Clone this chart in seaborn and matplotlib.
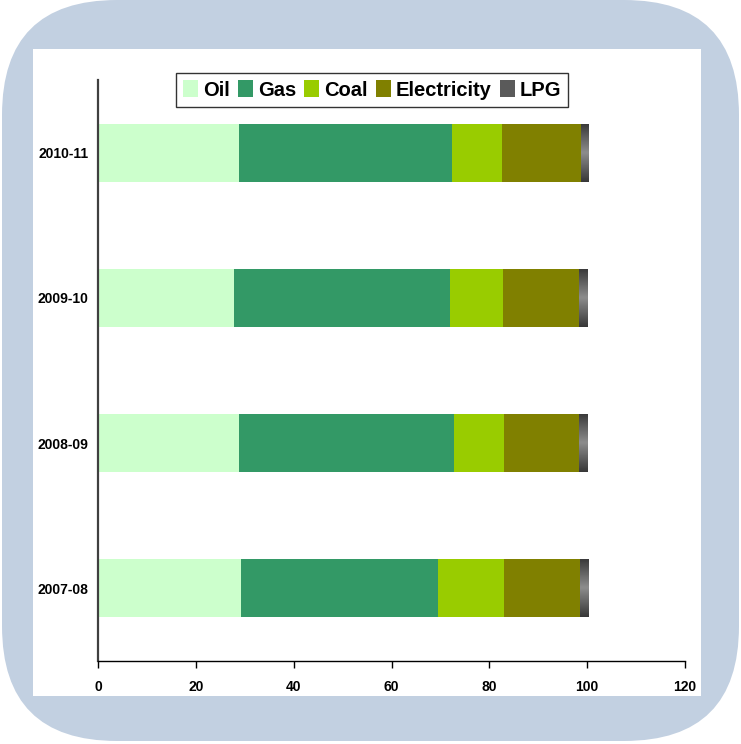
import numpy as np
import pandas as pd
import matplotlib
matplotlib.use("Agg")
import matplotlib.pyplot as plt
from matplotlib.patches import FancyBboxPatch, Rectangle, Patch
import seaborn as sns

# Energy share (%) by fuel and financial year
years = ["2010-11", "2009-10", "2008-09", "2007-08"]
oil = [28.9, 27.9, 28.9, 29.3]
gas = [43.4, 44.0, 43.8, 40.3]
coal = [10.3, 10.8, 10.2, 13.5]
electricity = [16.1, 15.6, 15.4, 15.4]
lpg = [1.6, 1.8, 1.8, 1.8]

fuels = ["Oil", "Gas", "Coal", "Electricity", "LPG"]
colors = ["#CCFFCC", "#339966", "#99CC00", "#808000", "#5A5A5A"]

sns.set_theme(style="white")
plt.rcParams["font.family"] = ["Liberation Sans", "DejaVu Sans"]

W, H = 741, 744
fig = plt.figure(figsize=(W / 100, H / 100), dpi=100)
fig.patch.set_facecolor("white")

# Rounded frame and white panel behind the chart
bg = fig.add_axes([0, 0, 1, 1], zorder=0)
bg.set_xlim(0, W)
bg.set_ylim(0, H)
bg.axis("off")
bg.add_patch(FancyBboxPatch((2, 3), 737, 741, boxstyle="round,pad=0,rounding_size=115",
                            facecolor="#C2D0E1", edgecolor="none"))
bg.add_patch(Rectangle((33, 48), 668, 647, facecolor="white", edgecolor="none"))

ax = fig.add_axes([98 / W, (H - 661) / H, 587 / W, 581 / H], zorder=1)
ax.set_facecolor("none")

df = pd.DataFrame({"Year": years, "Oil": oil, "Gas": gas, "Coal": coal,
                   "Electricity": electricity, "LPG": lpg})
cum = df[fuels].cumsum(axis=1)

# Stacked bars: draw cumulative totals from the longest down to the shortest
containers = {}
for fuel, col in zip(fuels[::-1], colors[::-1]):
    n_before = len(ax.patches)
    sns.barplot(x=cum[fuel], y=df["Year"], order=years, orient="h",
                color=col, saturation=1, width=0.4, ax=ax, zorder=2,
                linewidth=0, edgecolor="none")
    containers[fuel] = ax.patches[n_before:]

# LPG segments get a vertical metallic shading
grad = np.concatenate([np.linspace(0.22, 0.55, 50), np.linspace(0.55, 0.22, 50)])[:, None]
for p, start in zip(containers["LPG"], cum["Electricity"]):
    y0 = p.get_y()
    h = p.get_height()
    x1 = p.get_x() + p.get_width()
    im = ax.imshow(grad, cmap="gray", vmin=0, vmax=1, aspect="auto",
                   extent=(start, x1, y0 + h, y0), zorder=2.5, interpolation="bilinear")
    clip = Rectangle((start, y0), x1 - start, h, transform=ax.transData)
    im.set_clip_path(clip)

ax.set_xlim(0, 120)
ax.set_ylim(3.5, -0.5)
ax.set_xticks(range(0, 121, 20))
ax.set_xlabel("")
ax.set_ylabel("")
for s in ["top", "right"]:
    ax.spines[s].set_visible(False)
ax.spines["left"].set_color("#404040")
ax.spines["left"].set_linewidth(1.6)
ax.spines["bottom"].set_color("black")
ax.spines["bottom"].set_linewidth(1.0)
ax.tick_params(axis="x", direction="out", length=5, width=1, color="black",
               bottom=True, pad=9, labelsize=10)
ax.tick_params(axis="y", length=0, pad=7, labelsize=10)
for lab in ax.get_xticklabels() + ax.get_yticklabels():
    lab.set_fontweight("bold")
    lab.set_color("black")

handles = [Patch(facecolor=c, edgecolor="none") for c in colors]
leg = fig.legend(handles, fuels, loc="center", bbox_to_anchor=(372 / W, (H - 90) / H),
                 ncol=5, frameon=True, fancybox=False, edgecolor="black",
                 prop={"size": 14.5, "weight": "bold"}, handlelength=0.75, handleheight=0.9,
                 handletextpad=0.25, columnspacing=0.4, borderpad=0.35, borderaxespad=0)
leg.get_frame().set_linewidth(1.0)
for t in leg.get_texts():
    t.set_color("black")
leg.set_zorder(5)

fig.savefig("out.png", dpi=100, facecolor="white")
